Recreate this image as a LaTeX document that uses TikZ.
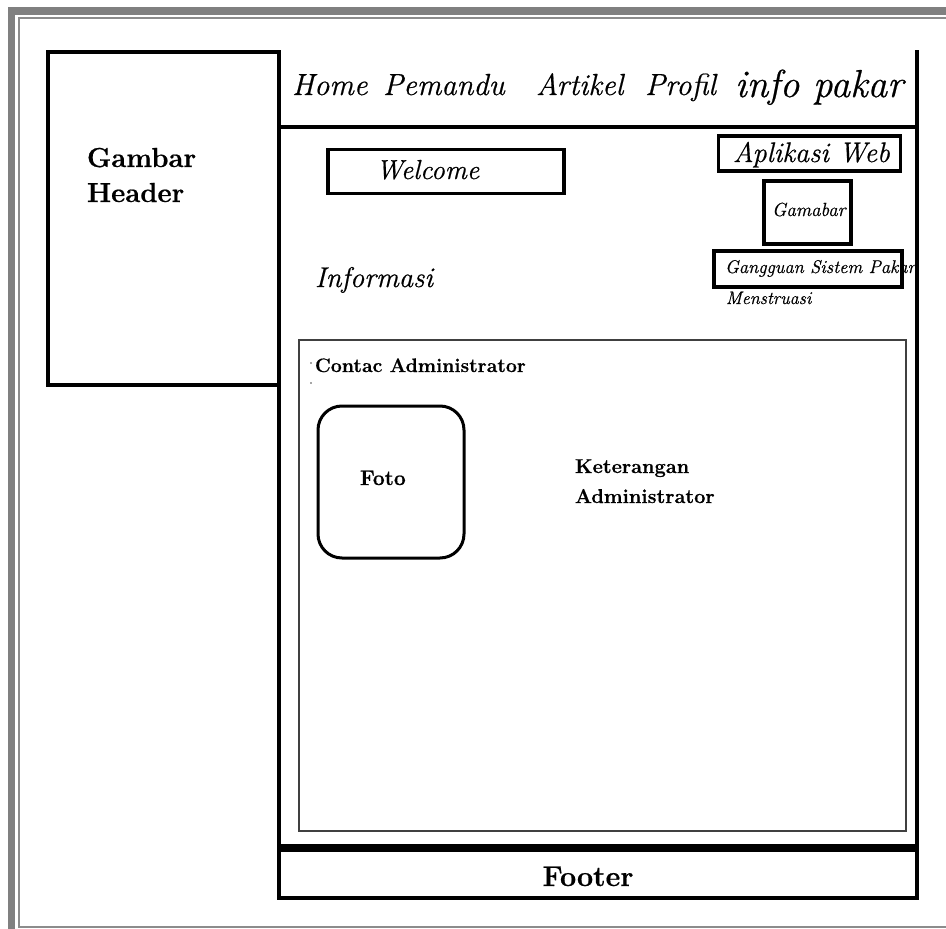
\documentclass[tikz,border=0pt]{standalone}
\usepackage{fontspec}
\setmainfont{Latin Modern Roman}[FakeBold=0.6]
\newcommand\fsz[2]{\fontsize{#1}{#2}\selectfont}
\begin{document}
\begin{tikzpicture}[x=1pt,y=-1pt,
  lbl/.style={inner sep=0pt,outer sep=0pt,anchor=base west},
  boxthick/.style={draw=black,line width=3.5pt,inner sep=0pt},
  navtext/.style={lbl,font=\fsz{30.5}{36}\itshape},
  boldtext/.style={lbl,font=\fsz{#1}{#1}\bfseries},
  ittext/.style={lbl,font=\fsz{#1}{#1}\itshape},
  frameband/.style={draw=black!50,line width=7.5pt},
  frameline/.style={draw=black!45,line width=2pt},
  wall/.style={draw=black,line width=3.2pt}
]
\useasboundingbox (0,0) rectangle (946,929);
\fill[white] (0,0) rectangle (946,929);
% outer frame
\coordinate (fbl) at (11.5,935);
\coordinate (ftl) at (11.5,11);
\coordinate (ftr) at (952,11);
\draw[frameband] (fbl) -- (ftl) -- (ftr);
\coordinate (ia) at (19,18);
\coordinate (ib) at (952,927);
\draw[frameline] (ia) rectangle (ib);

% header image box
\coordinate (hA) at (48,52);
\coordinate (hB) at (279,385);
\draw[wall] (hA) rectangle (hB);
\node[boldtext=27.5] (gambar) at (87,167) {Gambar};
\node[boldtext=27.5] (header) at (87,202) {Header};

% main frame
\coordinate (mTL) at (279,52);
\coordinate (mBL) at (279,898);
\coordinate (mBR) at (917,898);
\coordinate (mTR) at (917,50);
\draw[wall,line join=miter] (mTL) -- (mBL) -- (mBR) -- (mTR);
\coordinate (navL) at (279,127);
\coordinate (navR) at (917,127);
\draw[wall] (navL) -- (navR);
\coordinate (ftL) at (279,848);
\coordinate (ftR) at (917,848);
\draw[draw=black,line width=8pt] (ftL) -- (ftR);

% navigation
\node[navtext] (home) at (292,95) {Home};
\node[navtext] (pemandu) at (383,95) {Pemandu};
\node[navtext] (artikel) at (536,95) {Artikel};
\node[navtext] (profil) at (645,95) {Profil};
\node[lbl,font=\fsz{39}{44}\itshape] (info) at (735,97) {info pakar};

% welcome
\node[boxthick,minimum width=236pt,minimum height=44pt] (welcomebox) at (446,171.5) {};
\node[ittext=27.5] (welcome) at (376,179) {Welcome};
\node[ittext=28.5] (informasi) at (315,287) {Informasi};

% right column
\node[boxthick,minimum width=182pt,minimum height=35pt] (appbox) at (809.5,153.5) {};
\node[ittext=28.3] (app) at (733,162) {Aplikasi Web};
\node[boxthick,minimum width=87pt,minimum height=63pt] (gambox) at (807.5,212.5) {};
\node[ittext=19] (gamabar) at (772,216) {Gamabar};
\node[ittext=18.4] (gangguan) at (725,273) {Gangguan Sistem Pakar};
\node[boxthick,minimum width=188pt,minimum height=36pt] (ganbox) at (808,269) {};
\node[ittext=18] (mens) at (726,304) {Menstruasi};

% contact
\coordinate (cA) at (299,340);
\coordinate (cB) at (906,831);
\draw[draw=black!75,line width=1.3pt] (cA) rectangle (cB);
\node[boldtext=19.5] (contac) at (315,372) {Contac Administrator};
\fill[black!70] (311,363) circle (0.9pt);
\fill[black!70] (311,383) circle (0.9pt);
\node[draw=black,line width=3pt,rounded corners=24pt,minimum width=146pt,minimum height=152pt,inner sep=0pt] (foto) at (391,482) {};
\node[boldtext=21] (fototext) at (360,485) {Foto};
\node[boldtext=20] (ket1) at (575,473) {Keterangan};
\node[boldtext=20] (ket2) at (575,503) {Administrator};

% footer
\node[lbl,anchor=base,font=\fsz{28.6}{32}\bfseries] (footer) at (588,886) {Footer};
\end{tikzpicture}
\end{document}
